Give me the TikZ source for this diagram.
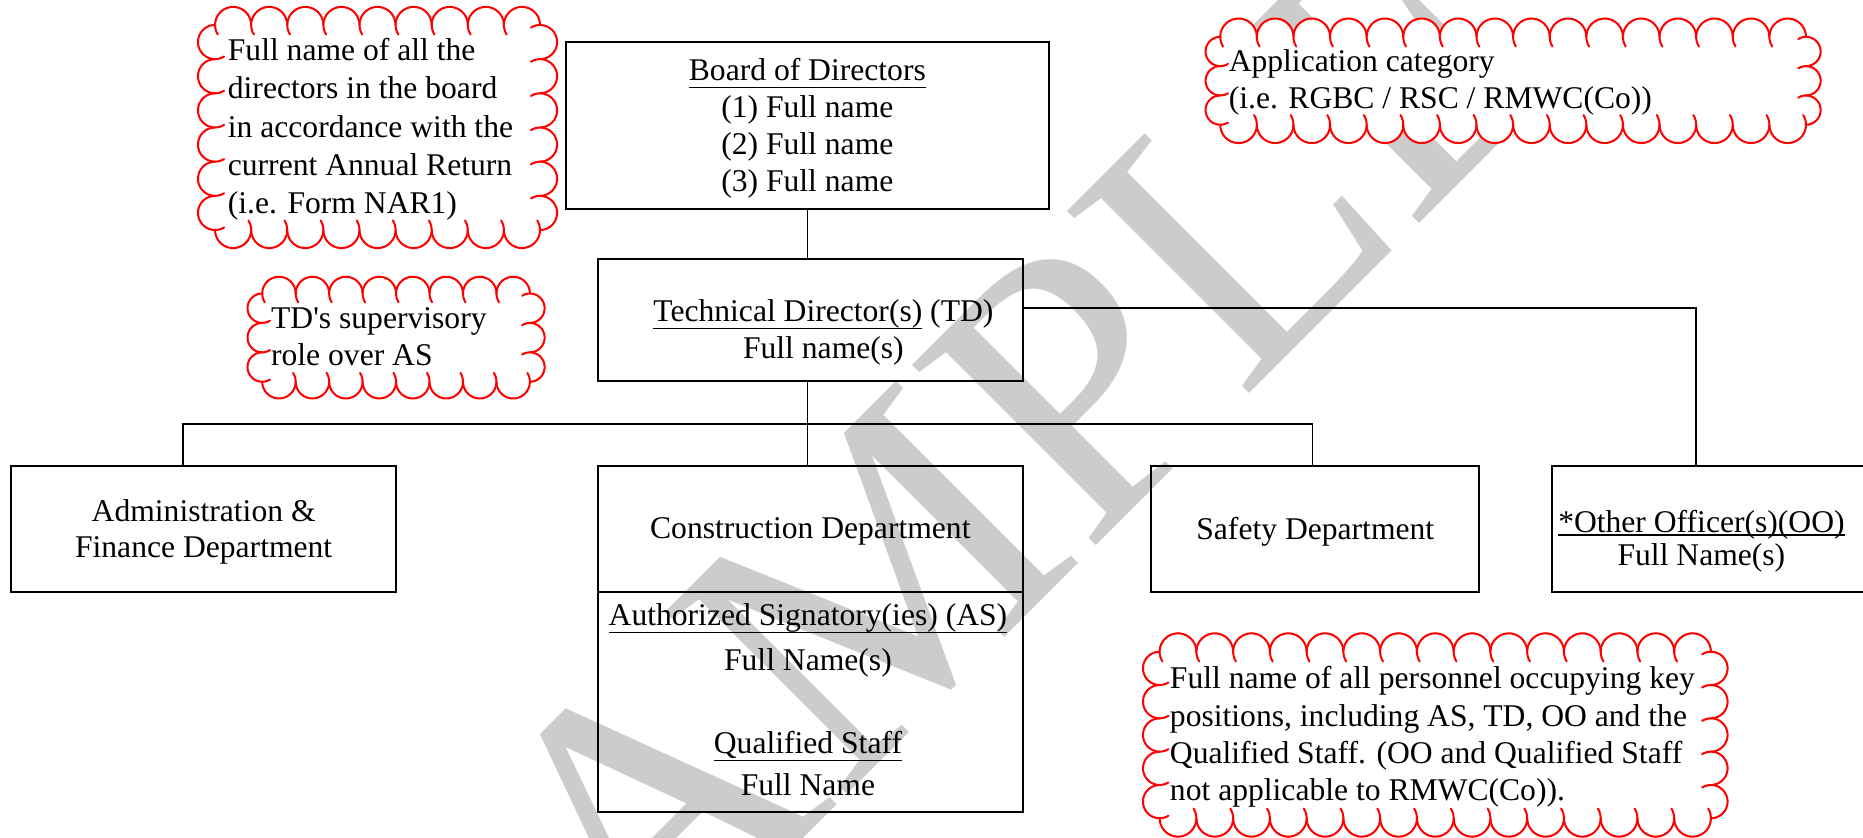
\documentclass[tikz,border=0pt]{standalone}
\usepackage{fontspec}
\setmainfont{Liberation Serif}
\tikzset{
  box/.style={draw, line width=1.6pt, inner sep=0pt, outer sep=0pt},
  conn/.style={line width=1.3pt},
  txt/.style={font=\fontsize{26.6}{31}\selectfont, inner sep=0pt, anchor=base},
  ltxt/.style={txt, anchor=base west},
  cloudline/.style={draw=red, line width=1.7pt, line cap=round, line join=round},
  wm/.style={text=black!20, font=\fontsize{331}{331}\selectfont, inner sep=0pt},
}
\newcommand\myul[2][6.5pt]{\setbox0\hbox{#2}\rlap{\rule[-#1]{\wd0}{1.4pt}}\box0\relax}
\newcommand\scalfill[7]{%
  \pgfmathsetmacro\scr{0.5*(#7)}\pgfmathsetmacro\scmx{#1}\pgfmathsetmacro\scmy{#2}%
  \fill[white] plot[domain=0:180,samples=19,variable=\t]
    ({\scmx+\scr*cos(\t)*(#3)+\scr*sin(\t)*(#5)},{\scmy+\scr*cos(\t)*(#4)+\scr*sin(\t)*(#6)}) -- cycle;}
\newcommand\scaldraw[7]{%
  \pgfmathsetmacro\scr{0.5*(#7)}\pgfmathsetmacro\scmx{#1}\pgfmathsetmacro\scmy{#2}%
  \draw[cloudline] plot[domain=0:212,samples=24,variable=\t]
    ({\scmx+\scr*cos(\t)*(#3)+\scr*sin(\t)*(#5)},{\scmy+\scr*cos(\t)*(#4)+\scr*sin(\t)*(#6)});}
\newcommand\cloudedges[7]{%
  \pgfmathsetmacro\cwx{(#4-#2)/#6}\pgfmathsetmacro\cwy{(#5-#3)/#7}%
  \foreach \i in {1,...,#6}{#1{#2+(\i-0.5)*\cwx}{#3}{1}{0}{0}{-1}{\cwx}#1{#4-(\i-0.5)*\cwx}{#5}{-1}{0}{0}{1}{\cwx}}%
  \foreach \j in {1,...,#7}{#1{#4}{#3+(\j-0.5)*\cwy}{0}{1}{1}{0}{\cwy}#1{#2}{#5-(\j-0.5)*\cwy}{0}{-1}{-1}{0}{\cwy}}}
\newcommand\cloudbox[6]{%
  \fill[white] (#1,#2) rectangle (#3,#4);
  \cloudedges\scalfill{#1}{#2}{#3}{#4}{#5}{#6}
  \cloudedges\scaldraw{#1}{#2}{#3}{#4}{#5}{#6}}
\begin{document}
\begin{tikzpicture}[x=1pt,y=-1pt]
\useasboundingbox (0,0) rectangle (1568,704.5);
\clip (0,0) rectangle (1568,704.5);
% watermark
\node[wm, rotate=45] (wmark) at (792.8,436.9) {SAMPLE};
% boxes
\node[box, minimum width=407pt, minimum height=141pt] (board) at (679.5,105.5) {};
\node[box, minimum width=358pt, minimum height=103pt] (td) at (682,269.5) {};
\node[box, minimum width=324.5pt, minimum height=106pt] (admin) at (171.25,445) {};
\node[box, minimum width=358pt, minimum height=106pt] (cons) at (682,445) {};
\node[box, minimum width=358pt, minimum height=185.5pt] (consb) at (682,590.75) {};
\node[box, minimum width=276pt, minimum height=106pt] (safety) at (1107,445) {};
\node[box, minimum width=294pt, minimum height=106pt] (oo) at (1453,445) {};
% connectors
\coordinate (tdR) at (861,259);
\coordinate (ooT) at (1427.5,392);
\coordinate (busL) at (154,357);
\coordinate (busR) at (1104.5,357);
\draw[conn] (board.south) -- (board.south |- td.north);
\draw[conn] (board.south |- td.south) -- (board.south |- cons.north);
\draw[conn] (busL |- admin.north) -- (busL) -- (busR) -- (busR |- safety.north);
\draw[conn] (td.east |- tdR) -| (ooT);
% box texts
\node[txt] (b1) at (679.5,67.8) {\myul{Board of Directors}};
\node[txt] (b2) at (679.5,98.8) {(1) Full name};
\node[txt] (b3) at (679.5,129.8) {(2) Full name};
\node[txt] (b4) at (679.5,160.8) {(3) Full name};
\node[txt] (t1) at (693,270.8) {\myul{Technical Director(s)} (TD)};
\node[txt] (t2) at (693,301.8) {Full name(s)};
\node[txt] (a1) at (171.4,438.8) {Administration \&};
\node[txt] (a2) at (171.4,469.3) {Finance Department};
\node[txt] (k1) at (682,453.4) {Construction Department};
\node[txt] (k2) at (680,526.5) {\myul{Authorized Signatory(ies) (AS)}};
\node[txt] (k3) at (680,564.4) {Full Name(s)};
\node[txt] (k4) at (680,634.3) {\myul{Qualified Staff}};
\node[txt] (k5) at (680,669.8) {Full Name};
\node[txt] (s1) at (1107,453.8) {Safety Department};
\node[txt] (o1) at (1432,448.5) {\myul[2.5pt]{*Other Officer(s)(OO)}};
\node[txt] (o2) at (1432,476) {Full Name(s)};
% clouds
\cloudbox{181}{21}{454.5}{193.6}{9}{6}
\cloudbox{220.7}{247}{446}{321.3}{8}{3}
\cloudbox{1027}{31}{1520}{105}{16}{3}
\cloudbox{976}{548.5}{1440}{688.7}{15}{5}
\foreach \t [count=\i] in {{Full name of all the},{directors in the board},{in accordance with the},{current Annual Return},{(i.e. Form NAR1)}}
  \node[ltxt] (ca\i) at (191.6,{50.8+(\i-1)*32.3}) {\t};
\node[ltxt] (cb1) at (228,276.8) {TD\textquotesingle s supervisory};
\node[ltxt] (cb2) at (228,307.7) {role over AS};
\node[ltxt] (cc1) at (1034,60.3) {Application category};
\node[ltxt] (cc2) at (1034,91.6) {(i.e. RGBC / RSC / RMWC(Co))};
\foreach \t [count=\i] in {{Full name of all personnel occupying key},{positions, including AS, TD, OO and the},{Qualified Staff. (OO and Qualified Staff},{not applicable to RMWC(Co)).}}
  \node[ltxt] (cd\i) at (984.5,{579.8+(\i-1)*31.3}) {\t};
\end{tikzpicture}
\end{document}
